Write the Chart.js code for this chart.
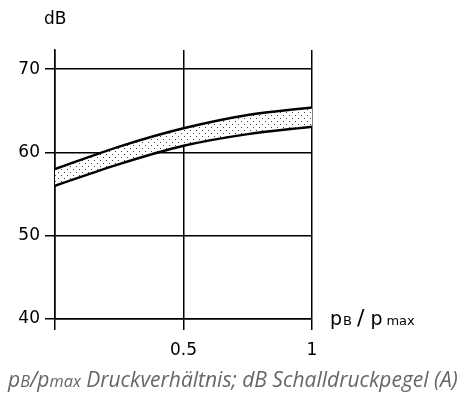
<!DOCTYPE html>
<html>
<head>
<meta charset="utf-8">
<script src="https://cdn.jsdelivr.net/npm/chart.js@4"></script>
<style>
  html, body { margin: 0; padding: 0; background: #fff; }
  #wrap { position: relative; width: 467px; height: 399px; }
</style>
</head>
<body>
<div id="wrap"><canvas id="c" width="467" height="399"></canvas></div>
<script>
// Pressure ratio pB/pmax and the band of A-weighted sound pressure level (dB)
const ratio      = [0, 0.25, 0.5, 0.75, 1];
const levelUpper = [58.0, 60.7, 62.9, 64.5, 65.4];
const levelLower = [56.0, 58.6, 60.8, 62.2, 63.1];
const yTicks     = [40, 50, 60, 70];
const xTicks     = [0, 0.5, 1];
const xTickLabels = ['', '0.5', '1'];

// dotted stipple used for the band between the two curves
function stipple() {
  const t = document.createElement('canvas');
  t.width = 6; t.height = 6;
  const g = t.getContext('2d');
  g.fillStyle = '#fff';
  g.fillRect(0, 0, 6, 6);
  g.fillStyle = '#444';
  g.fillRect(1, 1, 1, 1);
  g.fillRect(4, 4, 1, 1);
  return g.createPattern(t, 'repeat');
}

const FONT = '"DejaVu Sans", sans-serif';
const CF = '"Open Sans", "DejaVu Sans", sans-serif';

// draws a run of [fontSize, text] pieces from x along one baseline
function run(ctx, pieces, x, base, style, family, scale, gaps) {
  pieces.forEach(([size, s], i) => {
    ctx.font = style + (size * scale) + 'px ' + family;
    ctx.fillText(s, x, base);
    x += ctx.measureText(s).width + (gaps ? gaps[i] : 0);
  });
  return x;
}

const labels = {
  id: 'labels',
  afterDraw(chart) {
    const ctx = chart.ctx;
    const xs = chart.scales.x, ys = chart.scales.y;
    ctx.save();
    ctx.fillStyle = '#000';
    ctx.textBaseline = 'alphabetic';
    ctx.textAlign = 'left';
    // unit on top of the y axis
    ctx.font = '17px ' + FONT;
    ctx.fillText('dB', 44, 24);
    // x-axis quantity next to the axis end
    run(ctx, [[19, 'p'], [13, 'B'], [22, '/'], [19, 'p'], [13, 'max']],
        xs.right + 18, ys.getPixelForValue(40) + 6, '', FONT, 1, [1, 5, 6, 4, 0]);
    // caption, sized to span the width below the chart
    ctx.fillStyle = '#666';
    const parts = [[18, 'p'], [14, 'B'], [18, '/p'], [14, 'max'],
                   [18, ' Druckverhältnis; dB Schalldruckpegel (A)']];
    const w = run(ctx, parts, 0, -100, 'italic ', CF, 1);
    run(ctx, parts, 8, 387, 'italic ', CF, 450 / w);
    ctx.restore();
  }
};

const upperPts = ratio.map((r, i) => ({ x: r, y: levelUpper[i] }));
const lowerPts = ratio.map((r, i) => ({ x: r, y: levelLower[i] }));

new Chart(document.getElementById('c'), {
  type: 'line',
  data: {
    datasets: [
      { data: upperPts, borderColor: '#000', borderWidth: 2.5, pointRadius: 0,
        cubicInterpolationMode: 'monotone', fill: false },
      { data: lowerPts, borderColor: '#000', borderWidth: 2.5, pointRadius: 0,
        cubicInterpolationMode: 'monotone', fill: { target: 0 }, backgroundColor: stipple() }
    ]
  },
  options: {
    responsive: false,
    animation: false,
    layout: { padding: { top: 50, right: 155, left: 0, bottom: 0 } },
    plugins: { legend: { display: false }, tooltip: { enabled: false } },
    scales: {
      x: {
        type: 'linear', min: 0, max: 1,
        afterBuildTicks(s) { s.ticks = xTicks.map(v => ({ value: v })); },
        afterFit(s) { s.height = 80; },
        grid: { color: '#000', lineWidth: 1.5, tickLength: 11, tickColor: '#000' },
        border: { color: '#000', width: 1.5 },
        ticks: {
          color: '#000', font: { family: FONT, size: 17 }, padding: 10, maxRotation: 0,
          callback: (v) => { const i = xTicks.indexOf(v); return i >= 0 ? xTickLabels[i] : ''; }
        }
      },
      y: {
        min: 40, max: 72.3,
        afterBuildTicks(s) { s.ticks = yTicks.map(v => ({ value: v })); },
        afterFit(s) { s.width = 55; },
        grid: { color: '#000', lineWidth: 1.5, tickLength: 10, tickColor: '#000' },
        border: { color: '#000', width: 1.5 },
        ticks: { color: '#000', font: { family: FONT, size: 17 }, padding: 5 }
      }
    }
  },
  plugins: [labels]
});
</script>
</body>
</html>
